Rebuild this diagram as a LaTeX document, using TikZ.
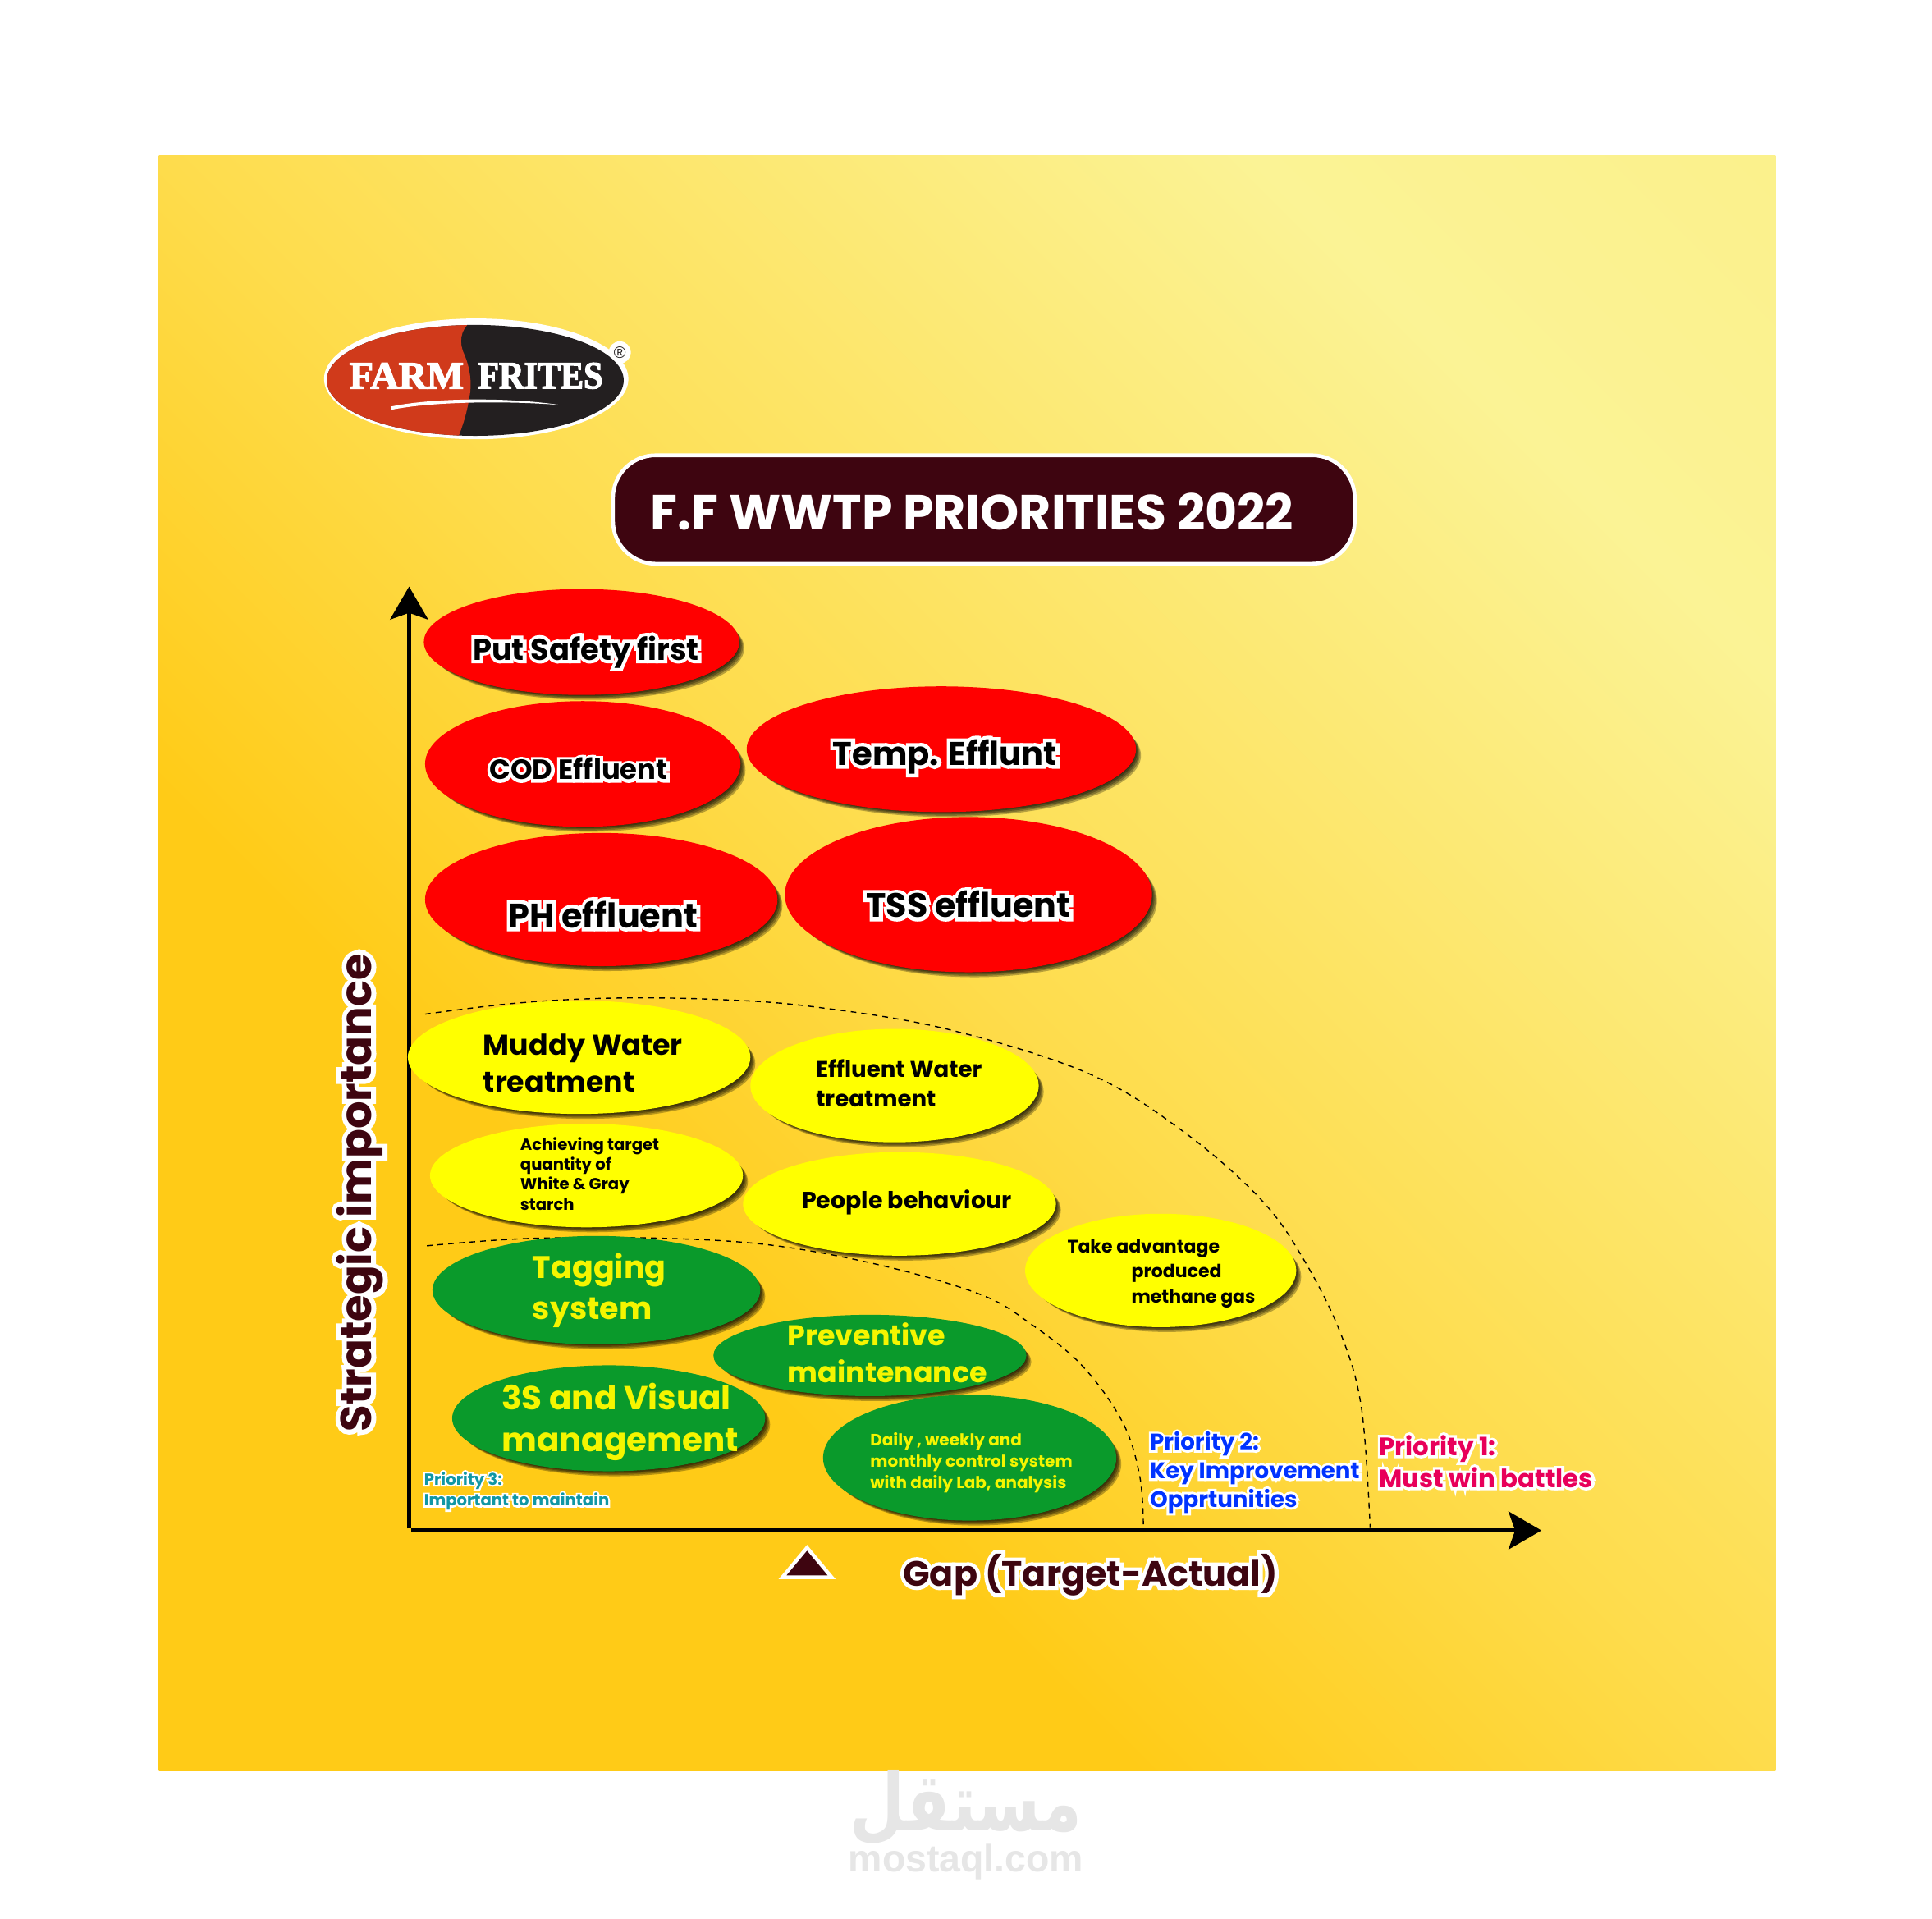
\documentclass[tikz,border=0pt]{standalone}
\usepackage{fontspec}
\setmainfont{Poppins}
\newfontfamily\logofont{Liberation Serif}[BoldFeatures={FakeBold=3}]
\newfontfamily\wmfont{Liberation Sans}
\newfontfamily\arabicfont[Script=Arabic]{DejaVu Sans}
\TeXXeTstate=1
\usetikzlibrary{shapes.geometric,arrows.meta,shadings}
\definecolor{cA}{HTML}{FFCB17}
\definecolor{cB}{HTML}{FEDC4C}
\definecolor{cC}{HTML}{FBF395}
\definecolor{cD}{HTML}{FAEE80}
\definecolor{maroon}{HTML}{3E0510}
\definecolor{blobred}{HTML}{FF0000}
\definecolor{blobyel}{HTML}{FFFF00}
\definecolor{blobgrn}{HTML}{0A9A2B}
\definecolor{txtyel}{HTML}{F5F500}
\definecolor{pone}{HTML}{E8005A}
\definecolor{ptwo}{HTML}{0033FF}
\definecolor{pthree}{HTML}{1097A5}
\definecolor{wm}{HTML}{E6E6E6}
\definecolor{logored}{HTML}{D03A1B}
\definecolor{logoblk}{HTML}{231F20}
\pgfdeclareverticalshading{bgshade}{100bp}{color(0bp)=(cA);color(36bp)=(cA);color(50bp)=(cB);color(74bp)=(cC);color(100bp)=(cD)}
\newcommand{\fs}[2]{\fontsize{#1}{#2}\selectfont\bfseries}
\newcommand{\ol}[1]{\leavevmode\rlap{\color{white}\addfontfeature{FakeBold=22}#1}#1}
\newcommand{\blob}[6]{%
  \foreach \d in {1,2,3,4,5}{\fill[black,opacity=.28] ({#2+\d},{#3+\d}) ellipse [x radius=#4-1, y radius=#5-1];}
  \node[ellipse,inner sep=0pt,fill=#6,minimum width={2*#4*0.75pt},minimum height={2*#5*0.75pt}] (#1) at (#2,#3) {};}
\tikzset{
  lab/.style={inner sep=0pt,align=left,anchor=west},
  ctr/.style={inner sep=0pt,align=center},
  axisline/.style={line width=2.4pt,-{Stealth[length=20pt,width=23pt,inset=4pt]}},
  zone/.style={line width=0.7pt,dash pattern=on 3.4pt off 3.1pt},
}
\begin{document}
\begin{tikzpicture}[x=0.75pt,y=-0.75pt]
\useasboundingbox (0,0) rectangle (1568,1557);
\fill[white] (0,0) rectangle (1568,1557);
\shade[shading=bgshade,shading angle=-45] (129,126) rectangle (1441,1437);

% logo
\fill[white] (503,286) circle [radius=9];
\fill[white] (386.5,307.5) ellipse [x radius=123.5, y radius=49];
\begin{scope}
\clip (385.7,308.7) ellipse [x radius=120.5, y radius=45];
\fill[logoblk] (260,255) rectangle (515,360);
\fill[logored] (260,255) -- (382,255) -- (379,264) .. controls (372,272) and (374,282) .. (377,288) .. controls (382,300) and (383,312) .. (381,322) .. controls (379,335) and (376,344) .. (372.6,353) -- (372,360) -- (260,360) -- cycle;
\end{scope}
\node[ctr,text=white] (farm) at (330,305) {\resizebox{69.5pt}{15.5pt}{\logofont\bfseries FARM}};
\node[ctr,text=white] (frites) at (438.6,305) {\resizebox{76pt}{15.5pt}{\logofont\bfseries FRITES}};
\fill[white] (317,330) .. controls (350,323) and (410,322) .. (455,328.7) .. controls (410,325) and (350,326) .. (318,332.5) -- cycle;
\node[ctr,text=logoblk] (reg) at (503,286) {\wmfont\fontsize{10pt}{11pt}\selectfont ®};

% title
\node[rounded corners=26pt,draw=white,line width=2.3pt,fill=maroon,minimum width=451.5pt,minimum height=66pt,inner sep=0pt] (titlebox) at (798.5,413.5) {};
\node[ctr,text=white] (title) at (789,415) {\fs{30}{32}F.F WWTP PRIORITIES 2022};

% zones
\draw[zone] plot[smooth,tension=.6] coordinates {(345,823) (420,814) (497,810) (580,811) (660,817) (768,835) (883,871) (960,918) (1023,973) (1058,1022) (1088,1082) (1105,1143) (1112,1240)};
\draw[zone] plot[smooth,tension=.6] coordinates {(346.5,1011) (431,1005) (541,1005) (630,1011) (720,1028) (797,1051) (836,1074) (878,1108) (911,1154) (925,1198) (928,1240)};

% axes
\coordinate (yo) at (332,1240.5);\coordinate (ytip) at (332,476);
\coordinate (xo) at (333.7,1242);\coordinate (xtip) at (1251,1242);
\draw[axisline] (yo) -- (ytip);
\draw[axisline] (xo) -- (xtip);

% red
\blob{safety}{472}{521}{128}{43}{blobred}
\blob{cod}{473}{620}{128}{51}{blobred}
\blob{temp}{764}{608}{158}{51}{blobred}
\blob{ph}{488}{730}{143}{54}{blobred}
\blob{tss}{786}{726}{149}{63}{blobred}
\node[ctr,font=\fs{18.4}{20}] (tsafety) at (475.5,529) {\ol{Put Safety first}};
\node[ctr,font=\fs{16.9}{20}] (tcod) at (469.5,624) {\ol{COD Effluent}};
\node[ctr,font=\fs{20}{20}] (ttemp) at (767,614) {\ol{Temp. Efflunt}};
\node[ctr,font=\fs{20.7}{20}] (tph) at (489.5,742) {\ol{PH effluent}};
\node[ctr,font=\fs{20.6}{20}] (ttss) at (786,734) {\ol{TSS effluent}};

% yellow
\blob{muddy}{470}{858}{139}{46}{blobyel}
\blob{water}{726}{881}{117}{46}{blobyel}
\blob{ach}{476}{954}{127}{42}{blobyel}
\blob{people}{730}{977}{127}{42}{blobyel}
\blob{take}{942}{1031}{110}{46}{blobyel}
\node[lab,font=\fs{17.4}{22.5}] (tmuddy) at (392,863) {Muddy Water\\treatment};
\node[lab,font=\fs{13.8}{18}] (twater) at (662,879) {Effluent Water\\treatment};
\node[lab,font=\fs{9.8}{12.2}] (tach) at (422,952.5) {Achieving target\\quantity of\\White \& Gray\\starch};
\node[ctr,font=\fs{14.2}{18}] (tpeople) at (736,976) {People behaviour};
\node[lab,font=\fs{11}{15.2}] (ttake) at (866,1033.5) {Take advantage\\\hspace*{39pt}produced\\\hspace*{39pt}methane gas};

% green
\blob{tag}{484}{1047}{133}{44}{blobgrn}
\blob{prev}{706}{1100}{127}{33}{blobgrn}
\blob{three}{494}{1151}{127}{43}{blobgrn}
\blob{daily}{787}{1183}{119}{51}{blobgrn}
\node[lab,text=txtyel,font=\fs{19}{25}] (ttag) at (432,1047) {Tagging\\system};
\node[lab,text=txtyel,font=\fs{17.4}{22.5}] (tprev) at (639,1098) {Preventive\\maintenance};
\node[lab,text=txtyel,font=\fs{20.2}{25.5}] (tthree) at (407,1154) {3S and Visual\\management};
\node[lab,text=txtyel,font=\fs{10}{12.8}] (tdaily) at (706,1187) {Daily , weekly and\\monthly control system\\with daily Lab, analysis};

% priority labels
\node[lab,text=pone,font=\fs{15.4}{19.5}] (pa) at (1119,1186) {\ol{Priority 1:}\\\ol{Must win battles}};
\node[lab,text=ptwo,font=\fs{13.8}{17.3}] (pb) at (933,1195) {\ol{Priority 2:}\\\ol{Key Improvement}\\\ol{Opprtunities}};
\node[lab,text=pthree,font=\fs{9.8}{12.8}] (pc) at (344,1210) {\ol{Priority 3:}\\\ol{Important to maintain}};

% axis titles
\node[ctr,text=maroon,font=\fs{26.4}{30}] (ylab) at (292,968) {\rotatebox{90}{\ol{Strategic importance}}};
\node[ctr,text=maroon,font=\fs{21.4}{26}] (xlab) at (885,1278) {\ol{Gap (Target-Actual)}};
\draw[draw=white,fill=maroon,line width=2.2pt,line join=miter] (655,1256) coordinate (triA) -- (675,1280) coordinate (triB) -- (635,1280) coordinate (triC) -- cycle;

% watermark
\node[ctr,text=wm] (wmar) at (784,1467) {\resizebox{141pt}{37pt}{\arabicfont\bfseries\beginR مستقل\endR}};
\node[ctr,text=wm] (wmen) at (784,1511) {\wmfont\fontsize{23.2pt}{25pt}\selectfont\bfseries mostaql.com};
\end{tikzpicture}
\end{document}
